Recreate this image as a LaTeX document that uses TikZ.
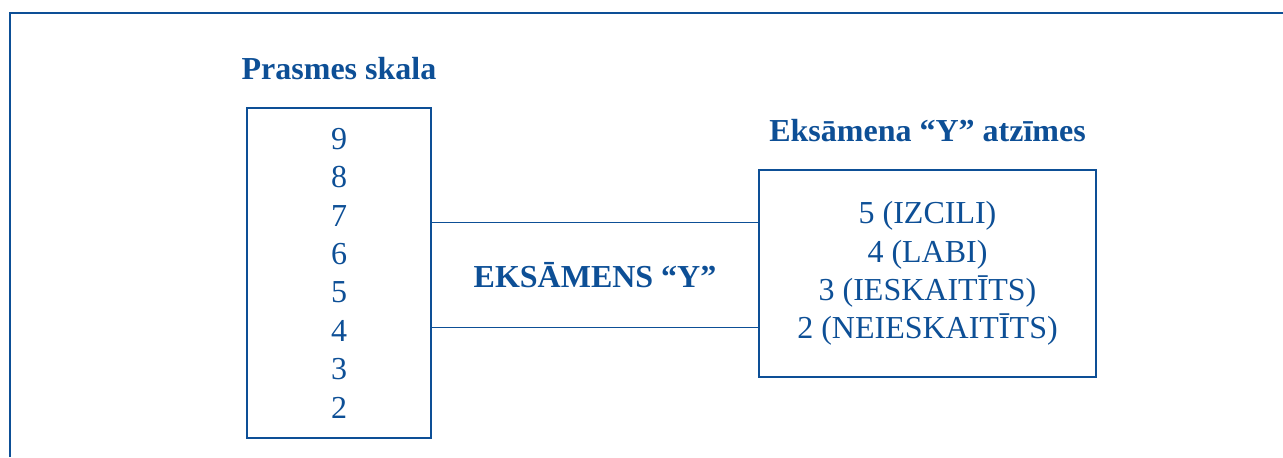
\documentclass[tikz,border=0pt]{standalone}
\usepackage{fontspec}
\setmainfont{Liberation Serif}
\usetikzlibrary{positioning}
\definecolor{darkblue}{RGB}{13,79,150}
\tikzstyle{box} = [rectangle, draw=darkblue, line width=0.75pt, text=darkblue, align=center, font=\fontsize{16}{19.2}\selectfont]
\tikzstyle{title} = [text=darkblue, font=\fontsize{16}{19.2}\selectfont\bfseries, inner sep=0pt]
\tikzstyle{line} = [draw=darkblue, line width=0.75pt]

\begin{document}
\begin{tikzpicture}[x=0.5pt, y=-0.5pt, node distance=14pt]
\useasboundingbox (0,0) rectangle (1283,457);
\draw [line, line width=1pt] (10,457) -- (10,13) -- (1283,13);
\node (scale) [box, minimum width=92pt, minimum height=165pt] at (339,273) {9\\8\\7\\6\\5\\4\\3\\2};
\node (marks) [box, minimum width=168.5pt, minimum height=103.5pt] at (927.5,273.5) {5 (IZCILI)\\4 (LABI)\\3 (IESKAITĪTS)\\2 (NEIESKAITĪTS)};
\node (scaletitle) [title, above=of scale.north, anchor=base] {Prasmes skala};
\node (markstitle) [title, above=of marks.north, anchor=base] {Eksāmena “Y” atzīmes};
\node (exam) [title, minimum height=52pt] at (595,275) {EKSĀMENS “Y”};
\draw [line] (scale.east |- exam.north) -- (marks.west |- exam.north);
\draw [line] (scale.east |- exam.south) -- (marks.west |- exam.south);
\end{tikzpicture}
\end{document}
